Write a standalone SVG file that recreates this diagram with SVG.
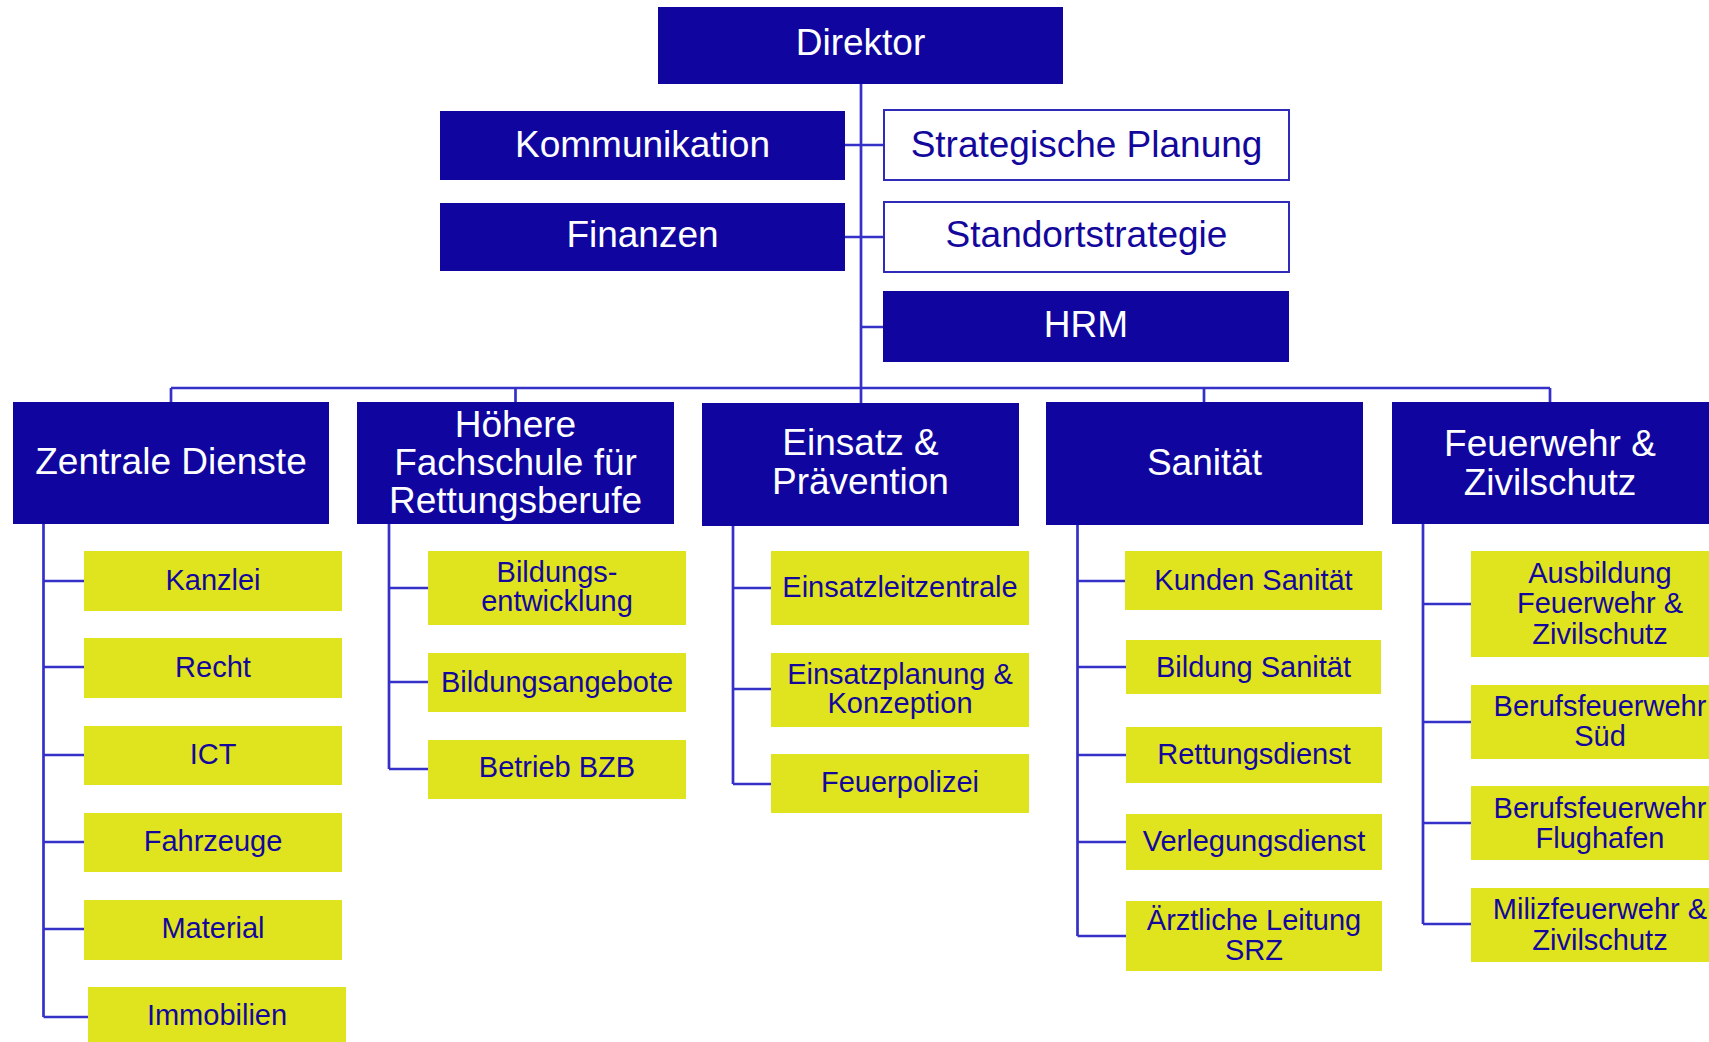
<svg xmlns="http://www.w3.org/2000/svg" width="1709" height="1042" viewBox="0 0 1709 1042">
<style>
.dark{fill:#10069f}
.white{fill:#ffffff;stroke:#2f2ab8;stroke-width:2}
.yel{fill:#e0e41e}
.tw{font-family:"Liberation Sans",Arial,sans-serif;font-size:37px;fill:#ffffff;text-anchor:middle}
.tb{font-family:"Liberation Sans",Arial,sans-serif;font-size:37px;fill:#14089c;text-anchor:middle}
.tc{font-family:"Liberation Sans",Arial,sans-serif;font-size:29px;fill:#14089c;text-anchor:middle}
.conn{fill:none;stroke:#3430c8;stroke-width:2.7}
</style>
<rect width="1709" height="1042" fill="#ffffff"/>
<g id="connectors" class="conn">
<path d="M861 84V388"/>
<path d="M845 145H884M845 237H884M861 327H883"/>
<path d="M171 388H1550M171 388V402M515.5 388V402M861 388V403M1204 388V402M1550 388V402"/>
<path d="M43.5 524V1017M43.5 581H84M43.5 667H84M43.5 755H84M43.5 842H84M43.5 929H84M43.5 1017H88"/>
<path d="M389 524V769M389 588H428M389 682H428M389 769H428"/>
<path d="M733 525V784M733 588H771M733 689H771M733 784H771"/>
<path d="M1077.5 525V936M1077.5 581H1125M1077.5 667H1126M1077.5 755H1126M1077.5 842H1126M1077.5 936H1126"/>
<path d="M1423 524V924M1423 604H1471M1423 722H1471M1423 823H1471M1423 924H1471"/>
</g>
<g id="direktor"><rect class="dark" x="658" y="7" width="405" height="77"/><text class="tw" x="860.5" y="55">Direktor</text></g>
<g id="kommunikation"><rect class="dark" x="440" y="111" width="405" height="69"/><text class="tw" x="642.5" y="157">Kommunikation</text></g>
<g id="finanzen"><rect class="dark" x="440" y="203" width="405" height="68"/><text class="tw" x="642.5" y="247">Finanzen</text></g>
<g id="strategische-planung"><rect class="white" x="884" y="110" width="405" height="70"/><text class="tb" x="1086.5" y="157">Strategische Planung</text></g>
<g id="standortstrategie"><rect class="white" x="884" y="202" width="405" height="70"/><text class="tb" x="1086.5" y="247">Standortstrategie</text></g>
<g id="hrm"><rect class="dark" x="883" y="291" width="406" height="71"/><text class="tw" x="1086" y="337">HRM</text></g>

<g id="zentrale-dienste"><rect class="dark" x="13" y="402" width="316" height="122"/><text class="tw" x="171" y="474">Zentrale Dienste</text></g>
<g id="hoehere-fachschule"><rect class="dark" x="357" y="402" width="317" height="122"/><text class="tw" x="515.5"><tspan x="515.5" y="437">Höhere</tspan><tspan x="515.5" y="475">Fachschule für</tspan><tspan x="515.5" y="513">Rettungsberufe</tspan></text></g>
<g id="einsatz-praevention"><rect class="dark" x="702" y="403" width="317" height="123"/><text class="tw"><tspan x="860.5" y="455">Einsatz &amp;</tspan><tspan x="860.5" y="494">Prävention</tspan></text></g>
<g id="sanitaet"><rect class="dark" x="1046" y="402" width="317" height="123"/><text class="tw" x="1204.5" y="475">Sanität</text></g>
<g id="feuerwehr-zivilschutz"><rect class="dark" x="1392" y="402" width="317" height="122"/><text class="tw"><tspan x="1550" y="456">Feuerwehr &amp;</tspan><tspan x="1550" y="495">Zivilschutz</tspan></text></g>

<g id="kanzlei"><rect class="yel" x="84" y="551" width="258" height="60"/><text class="tc" x="213" y="590">Kanzlei</text></g>
<g id="recht"><rect class="yel" x="84" y="638" width="258" height="60"/><text class="tc" x="213" y="677">Recht</text></g>
<g id="ict"><rect class="yel" x="84" y="726" width="258" height="59"/><text class="tc" x="213" y="764">ICT</text></g>
<g id="fahrzeuge"><rect class="yel" x="84" y="813" width="258" height="59"/><text class="tc" x="213" y="851">Fahrzeuge</text></g>
<g id="material"><rect class="yel" x="84" y="900" width="258" height="60"/><text class="tc" x="213" y="938">Material</text></g>
<g id="immobilien"><rect class="yel" x="88" y="987" width="258" height="60"/><text class="tc" x="217" y="1025">Immobilien</text></g>

<g id="bildungsentwicklung"><rect class="yel" x="428" y="551" width="258" height="74"/><text class="tc"><tspan x="557" y="582">Bildungs-</tspan><tspan x="557" y="611">entwicklung</tspan></text></g>
<g id="bildungsangebote"><rect class="yel" x="428" y="653" width="258" height="59"/><text class="tc" x="557" y="692">Bildungsangebote</text></g>
<g id="betrieb-bzb"><rect class="yel" x="428" y="740" width="258" height="59"/><text class="tc" x="557" y="777">Betrieb BZB</text></g>

<g id="einsatzleitzentrale"><rect class="yel" x="771" y="551" width="258" height="74"/><text class="tc" x="900" y="597">Einsatzleitzentrale</text></g>
<g id="einsatzplanung"><rect class="yel" x="771" y="653" width="258" height="74"/><text class="tc"><tspan x="900" y="684">Einsatzplanung &amp;</tspan><tspan x="900" y="713">Konzeption</tspan></text></g>
<g id="feuerpolizei"><rect class="yel" x="771" y="754" width="258" height="59"/><text class="tc" x="900" y="792">Feuerpolizei</text></g>

<g id="kunden-sanitaet"><rect class="yel" x="1125" y="551" width="257" height="59"/><text class="tc" x="1253.5" y="589.5">Kunden Sanität</text></g>
<g id="bildung-sanitaet"><rect class="yel" x="1126" y="640" width="255" height="54"/><text class="tc" x="1253.5" y="676.5">Bildung Sanität</text></g>
<g id="rettungsdienst"><rect class="yel" x="1126" y="727" width="256" height="56"/><text class="tc" x="1254" y="763.5">Rettungsdienst</text></g>
<g id="verlegungsdienst"><rect class="yel" x="1126" y="814" width="256" height="56"/><text class="tc" x="1254" y="850.5">Verlegungsdienst</text></g>
<g id="aerztliche-leitung"><rect class="yel" x="1126" y="901" width="256" height="70"/><text class="tc"><tspan x="1254" y="930">Ärztliche Leitung</tspan><tspan x="1254" y="959.5">SRZ</tspan></text></g>

<g id="ausbildung-fz"><rect class="yel" x="1471" y="551" width="258" height="106"/><text class="tc"><tspan x="1600" y="583">Ausbildung</tspan><tspan x="1600" y="613">Feuerwehr &amp;</tspan><tspan x="1600" y="643.5">Zivilschutz</tspan></text></g>
<g id="bf-sued"><rect class="yel" x="1471" y="685" width="258" height="74"/><text class="tc"><tspan x="1600" y="716">Berufsfeuerwehr</tspan><tspan x="1600" y="746">Süd</tspan></text></g>
<g id="bf-flughafen"><rect class="yel" x="1471" y="786" width="258" height="74"/><text class="tc"><tspan x="1600" y="817.5">Berufsfeuerwehr</tspan><tspan x="1600" y="848">Flughafen</tspan></text></g>
<g id="miliz"><rect class="yel" x="1471" y="888" width="258" height="74"/><text class="tc"><tspan x="1600" y="919">Milizfeuerwehr &amp;</tspan><tspan x="1600" y="949.5">Zivilschutz</tspan></text></g>
</svg>
